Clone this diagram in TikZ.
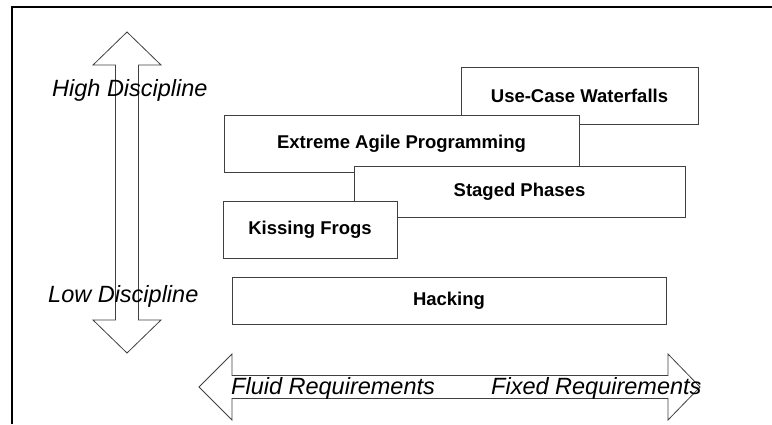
\documentclass[tikz,border=0pt]{standalone}
\usepackage{fontspec}
\setmainfont{Liberation Sans}
\begin{document}
\begin{tikzpicture}[x=1pt,y=-1pt,
  boxstyle/.style={draw=black!75, line width=0.9pt, fill=white, rectangle, inner sep=0pt,
    font=\fontsize{18.5}{20}\selectfont\bfseries, text=black},
  arrowshape/.style={draw=black!75, line width=0.8pt, fill=none, line join=miter},
  axislabel/.style={font=\fontsize{23.5}{26}\selectfont\itshape, text=black, inner sep=0pt},
  frameline/.style={draw=black, line width=2pt}]
\useasboundingbox (0,0) rectangle (772,424);
% frame
\draw[frameline] (12,424) -- (12,7) -- (772,7);
% vertical double arrow
\draw[arrowshape] (127,32) -- (161,65) -- (138.5,65) -- (138.5,320) -- (161,320) -- (127,353)
  -- (93,320) -- (115.5,320) -- (115.5,65) -- (93,65) -- cycle;
% horizontal double arrow
\draw[arrowshape] (199,387) -- (232,354) -- (232,375.5) -- (668,375.5) -- (668,354) -- (700,387)
  -- (668,420) -- (668,398.5) -- (232,398.5) -- (232,420) -- cycle;
% boxes
\node[boxstyle, minimum width=237pt, minimum height=57pt] (ucw) at (579.5,95.5) {Use-Case Waterfalls};
\node[boxstyle, minimum width=355pt, minimum height=57pt] (xap) at (401.5,143.5) {Extreme Agile Programming};
\node[boxstyle, minimum width=331pt, minimum height=51pt] (sp) at (519.5,191.5) {Staged Phases};
\node[boxstyle, minimum width=174pt, minimum height=57pt] (kf) at (310,229.5) {Kissing Frogs};
\node[boxstyle, minimum width=434pt, minimum height=47pt] (hk) at (449,300.5) {Hacking};
% axis labels
\node[axislabel, anchor=base west] (hd) at (52,96) {High Discipline};
\node[axislabel, anchor=base west] (ld) at (48,302) {Low Discipline};
\node[axislabel, anchor=base west] (fl) at (231,394) {Fluid Requirements};
\node[axislabel, anchor=base west] (fx) at (491,394) {Fixed Requirements};
\end{tikzpicture}
\end{document}
